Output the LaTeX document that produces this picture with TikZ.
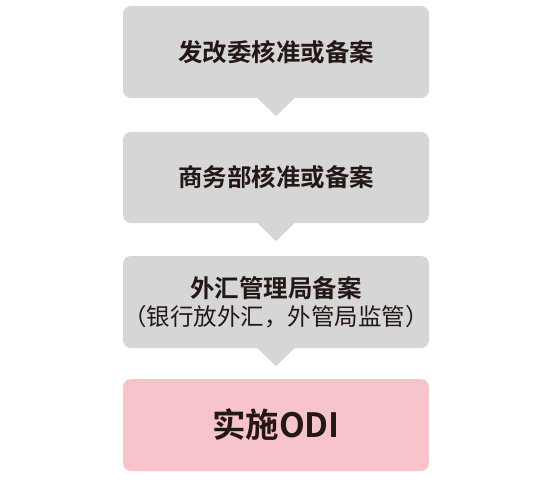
\documentclass[tikz,border=0pt]{standalone}
\usepackage{fontspec}
\newfontfamily\cjk{Noto Sans CJK SC}
\newfontfamily\cjkb{Noto Sans CJK SC Bold}
\usetikzlibrary{calc}
\definecolor{boxgray}{HTML}{D6D6D6}
\definecolor{boxpink}{HTML}{F8C4CB}
\definecolor{txt}{HTML}{231815}
\tikzset{
  stepbox/.style={fill=boxgray, rounded corners=8pt, minimum width=306pt, minimum height=92pt, inner sep=0pt, text=txt, align=center},
  arrowtri/.style={fill=boxgray},
}
\begin{document}
\begin{tikzpicture}[x=1pt,y=-1pt]
\useasboundingbox (0,0) rectangle (553,484);
\node[stepbox, font=\cjkb\fontsize{24.5}{28}\selectfont] (b1) at (276,52) {发改委核准或备案};
\node[stepbox, minimum height=91pt, font=\cjkb\fontsize{24.5}{28}\selectfont] (b2) at (276,177.5) {商务部核准或备案};
\node[stepbox, font=\cjkb\fontsize{24.5}{28}\selectfont] (b3) at (276,302) {外汇管理局备案\\[0pt]{\cjk\fontsize{23.5}{28}\selectfont （银行放外汇，外管局监管）}};
\node[stepbox, fill=boxpink, font=\cjkb\fontsize{33.5}{38}\selectfont] (b4) at (276,425) {实施ODI};
\foreach \a/\b in {b1/b2, b2/b3, b3/b4}{
  \fill[arrowtri] ($(\a.south)+(-18.5,0)$) -- ($(\a.south)+(18.5,0)$) -- ($(\a.south)+(0,18)$) -- cycle;
}
\end{tikzpicture}
\end{document}
